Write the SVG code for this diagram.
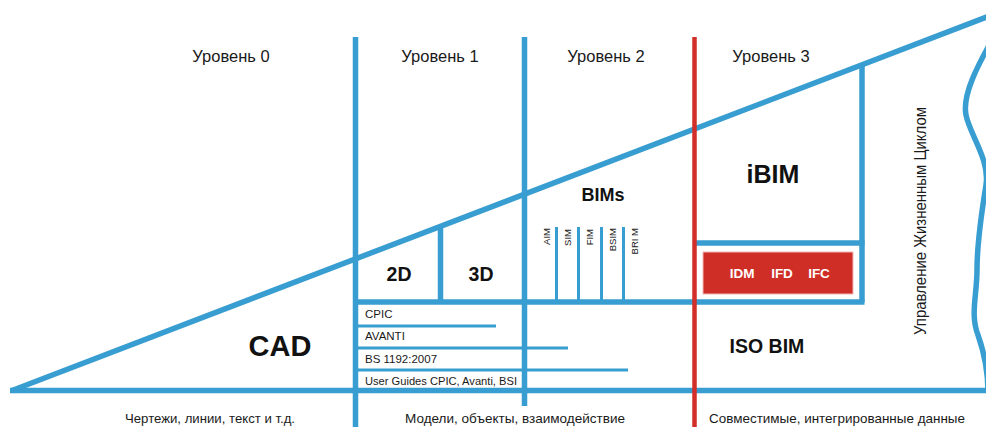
<svg xmlns="http://www.w3.org/2000/svg" width="986" height="427" viewBox="0 0 986 427">
<style>
.b{stroke:#389dd0;stroke-width:5.5;fill:none;stroke-linecap:butt}
.t{stroke:#389dd0;stroke-width:3;fill:none}
.r{stroke:#d12f28;stroke-width:4.5;fill:none}
.lvl{font-family:"Liberation Sans",Arial,sans-serif;font-size:16.5px;fill:#1a1a1a;text-anchor:middle}
.bot{font-family:"Liberation Sans",Arial,sans-serif;font-size:13.5px;fill:#1a1a1a;text-anchor:middle}
.big{font-family:"Liberation Sans",Arial,sans-serif;font-weight:bold;fill:#111;text-anchor:middle}
.sm{font-family:"Liberation Sans",Arial,sans-serif;font-size:11.5px;fill:#1a1a1a}
.v{font-family:"Liberation Sans",Arial,sans-serif;font-size:9.5px;fill:#1a1a1a;text-anchor:end}
.w{font-family:"Liberation Sans",Arial,sans-serif;font-weight:bold;font-size:13.5px;fill:#fff;text-anchor:middle}
</style>
<rect width="986" height="427" fill="#fff"/>
<g id="connectors">
  <line class="b" x1="10" y1="390.5" x2="986" y2="390.5"/>
  <line class="b" x1="12" y1="390.5" x2="992" y2="15"/>
  <line class="b" x1="355.5" y1="37" x2="355.5" y2="427"/>
  <line class="b" x1="524.5" y1="37" x2="524.5" y2="406"/>
  <line class="b" x1="355" y1="302" x2="864.5" y2="302"/>
  <line class="b" x1="862" y1="64" x2="862" y2="302"/>
  <line class="b" x1="694" y1="243" x2="864.5" y2="243"/>
  <line class="b" x1="440.5" y1="226" x2="440.5" y2="302"/>
  <line class="t" x1="556.5" y1="227" x2="556.5" y2="302"/>
  <line class="t" x1="578.5" y1="227" x2="578.5" y2="302"/>
  <line class="t" x1="601.5" y1="227" x2="601.5" y2="302"/>
  <line class="t" x1="623.5" y1="227" x2="623.5" y2="302"/>
  <line class="t" x1="355" y1="326" x2="496" y2="326"/>
  <line class="t" x1="355" y1="348" x2="568" y2="348"/>
  <line class="t" x1="355" y1="370" x2="628" y2="370"/>
  <path class="b" d="M 992 40 C 978 65 962 95 966 115 C 970 135 990 160 986 185 C 982 210 977 240 977 270 C 977 295 970 315 978 335 C 984 352 988 370 988 392"/>
  <line class="r" x1="694.5" y1="37" x2="694.5" y2="427"/>
</g>
<g id="levels">
  <text class="lvl" x="231" y="62">Уровень 0</text>
  <text class="lvl" x="440" y="62">Уровень 1</text>
  <text class="lvl" x="606" y="62">Уровень 2</text>
  <text class="lvl" x="771" y="62">Уровень 3</text>
</g>
<g id="cad"><text class="big" x="280" y="356" font-size="29">CAD</text></g>
<g id="n2d"><text class="big" x="399" y="281" font-size="19.5">2D</text></g>
<g id="n3d"><text class="big" x="481" y="281" font-size="19.5">3D</text></g>
<g id="bims"><text class="big" x="603" y="201" font-size="18">BIMs</text></g>
<g id="ibim"><text class="big" x="773" y="183" font-size="25">iBIM</text></g>
<g id="isobim"><text class="big" x="767" y="353" font-size="19.5">ISO BIM</text></g>
<g id="bim-types">
  <text class="v" transform="translate(550,228) rotate(-90)">AIM</text>
  <text class="v" transform="translate(571,229) rotate(-90)">SIM</text>
  <text class="v" transform="translate(593,229) rotate(-90)">FIM</text>
  <text class="v" transform="translate(616,228) rotate(-90)">BSIM</text>
  <text class="v" transform="translate(638,228) rotate(-90)">BRI M</text>
</g>
<g id="standards">
  <text class="sm" x="365" y="318">CPIC</text>
  <text class="sm" x="365" y="340">AVANTI</text>
  <text class="sm" x="365" y="363">BS 1192:2007</text>
  <text class="sm" x="365" y="385" textLength="152" lengthAdjust="spacingAndGlyphs">User Guides CPIC, Avanti, BSI</text>
</g>
<g id="red-box">
  <rect x="703" y="252" width="150" height="42" fill="#cf2e27" stroke="#f0b8b4" stroke-width="1"/>
  <text class="w" x="742" y="278">IDM</text>
  <text class="w" x="782" y="278">IFD</text>
  <text class="w" x="819" y="278">IFC</text>
</g>
<g id="lifecycle">
  <text class="lvl" font-size="14.5" transform="translate(926,221) rotate(-90)" textLength="228" lengthAdjust="spacingAndGlyphs">Управление Жизненным Циклом</text>
</g>
<g id="bottom">
  <text class="bot" x="210" y="423" textLength="170" lengthAdjust="spacingAndGlyphs">Чертежи, линии, текст и т.д.</text>
  <text class="bot" x="515" y="423" textLength="220" lengthAdjust="spacingAndGlyphs">Модели, объекты, взаимодействие</text>
  <text class="bot" x="837" y="423" textLength="256" lengthAdjust="spacingAndGlyphs">Совместимые, интегрированные данные</text>
</g>
</svg>
